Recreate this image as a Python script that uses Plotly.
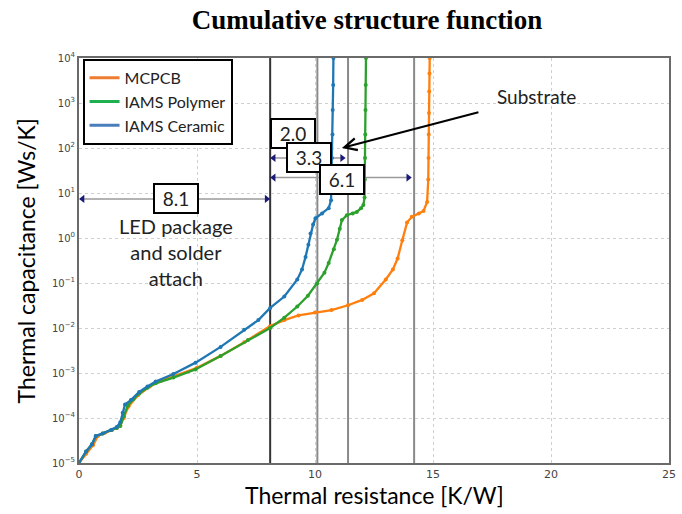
import numpy as np
import plotly.graph_objects as go

# Cumulative structure functions: thermal resistance [K/W] vs thermal capacitance [Ws/K]
mcpcb_r = [0, 0.3, 0.6, 0.8, 1.1, 1.4, 1.6, 1.75, 1.9, 2.1,
           2.5, 3.0, 3.5, 4.0, 5.0, 6.0, 7.0, 8.1, 8.7, 9.3,
           10.0, 10.7, 11.4, 12.0, 12.5, 13.0, 13.3, 13.5, 13.7, 13.9,
           14.1, 14.4, 14.6, 14.75, 14.8, 14.81, 14.82, 14.83, 14.84, 14.85, 14.86]
mcpcb_c = [1.0e-5, 1.6e-5, 2.5e-5, 4.0e-5, 4.7e-5, 5.4e-5, 6.0e-5, 6.8e-5, 1.0e-4, 1.8e-4,
           3.2e-4, 5.0e-4, 6.8e-4, 8.5e-4, 1.3e-3, 2.4e-3, 4.8e-3, 1.1e-2, 1.5e-2, 1.9e-2,
           2.2e-2, 2.5e-2, 3.2e-2, 4.2e-2, 5.9e-2, 0.12, 0.2, 0.35, 0.89, 2.2,
           2.95, 3.5, 4.0, 6.3, 20, 60, 200, 600, 1800, 4500, 10000]

polymer_r = [0, 0.3, 0.55, 0.71, 1.0, 1.37, 1.6, 1.75, 1.9, 2.07,
             2.3, 2.55, 2.9, 3.25, 4.0, 4.93, 6.0, 7.16, 8.1, 8.7,
             9.25, 9.7, 10.09, 10.4, 10.58, 10.8, 10.93, 11.05, 11.14, 11.35,
             11.6, 11.77, 11.95, 12.05, 12.1, 12.11, 12.12, 12.13, 12.14, 12.15, 12.16]
polymer_c = [1.0e-5, 1.8e-5, 2.6e-5, 4.0e-5, 4.5e-5, 5.4e-5, 6.0e-5, 6.6e-5, 1.1e-4, 1.9e-4,
             2.6e-4, 3.5e-4, 4.7e-4, 5.9e-4, 7.9e-4, 1.2e-3, 2.4e-3, 5.4e-3, 1.0e-2, 1.7e-2,
             3.0e-2, 5.2e-2, 9.8e-2, 0.17, 0.28, 0.56, 0.91, 1.6, 2.5, 3.2,
             3.5, 3.8, 4.6, 5.4, 7.9, 20, 60, 200, 700, 2500, 10000]

ceramic_r = [0, 0.3, 0.55, 0.71, 1.0, 1.37, 1.6, 1.75, 1.85, 1.95,
             2.2, 2.55, 2.9, 3.25, 4.0, 4.94, 6.0, 7.0, 7.6, 8.1,
             8.7, 9.25, 9.45, 9.6, 9.72, 9.81, 9.92, 10.02, 10.3, 10.58,
             10.68, 10.7, 10.72, 10.74, 10.75, 10.77, 10.78]
ceramic_c = [1.0e-5, 1.8e-5, 2.6e-5, 4.0e-5, 4.5e-5, 5.4e-5, 6.3e-5, 8.0e-5, 1.3e-4, 2.0e-4,
             2.5e-4, 3.8e-4, 5.0e-4, 6.5e-4, 9.5e-4, 1.7e-3, 3.8e-3, 9.1e-3, 1.5e-2, 2.8e-2,
             5.0e-2, 0.12, 0.2, 0.38, 0.71, 1.26, 2.0, 2.75, 3.5, 4.6,
             6.9, 20, 60, 200, 700, 2500, 10000]

series_names = ["MCPCB", "IAMS Polymer", "IAMS Ceramic"]
curve_colors = ["#ff7f0e", "#2ca02c", "#1f77b4"]
legend_colors = ["#ed7d31", "#1fb050", "#4a7ebb"]

# Thermal resistance of the LED package + solder, and the substrate increments
package_r = 8.1
substrate_widths = [2.0, 3.3, 6.1]
substrate_labels = ["2.0", "3.3", "6.1"]

x_ticks = [0, 5, 10, 15, 20, 25]
y_exponents = [-5, -4, -3, -2, -1, 0, 1, 2, 3, 4]

fig = go.Figure()

# boundary lines between package and substrate regions
boundaries = [package_r] + [package_r + w for w in substrate_widths]
for i, bx in enumerate(boundaries):
    fig.add_shape(type="line", xref="x", yref="paper", x0=bx, x1=bx, y0=0, y1=1,
                  line=dict(color="#333333" if i == 0 else "#8a8a8a", width=2),
                  layer="below")

# dimension arrows: gray shafts with navy triangular heads
dims = [
    (0.15, package_r - 0.15, 7.4),                                  # 8.1
    (package_r + 0.15, package_r + substrate_widths[1] - 0.25, 60),  # 3.3
    (package_r + 0.15, package_r + substrate_widths[2] - 0.25, 22),  # 6.1
]
for x0, x1, lvl in dims:
    fig.add_trace(go.Scatter(x=[x0, x1], y=[lvl, lvl], mode="lines",
                             line=dict(color="#9a9a9a", width=1.5),
                             hoverinfo="skip", showlegend=False))
    fig.add_trace(go.Scatter(x=[x0, x1], y=[lvl, lvl], mode="markers",
                             marker=dict(symbol=["triangle-left", "triangle-right"],
                                         size=7, color="#1a1a7a"),
                             hoverinfo="skip", showlegend=False))

series = [(mcpcb_r, mcpcb_c), (polymer_r, polymer_c), (ceramic_r, ceramic_c)]
for (r, c), name, col in zip(series, series_names, curve_colors):
    fig.add_trace(go.Scatter(x=r, y=c, mode="lines+markers", name=name,
                             line=dict(color=col, width=2.3),
                             marker=dict(color=col, size=4),
                             showlegend=False))
for name, col in zip(series_names, legend_colors):
    fig.add_trace(go.Scatter(x=[None], y=[None], mode="lines", name=name,
                             line=dict(color=col, width=3)))

annotations = []

box_font = dict(family="Lato, sans-serif", size=19, color="#222222")
boxes = [
    ("8.1", 4.1, 7.6),
    (substrate_labels[0], 9.05, 215),
    (substrate_labels[1], 9.76, 60),
    (substrate_labels[2], 11.14, 20),
]
for txt, bx, lvl in boxes:
    annotations.append(dict(x=bx, y=float(np.log10(lvl)), text=txt, showarrow=False,
                            font=box_font, bgcolor="white", bordercolor="black",
                            borderwidth=2, borderpad=2, width=38))

annotations.append(dict(x=4.1, y=float(np.log10(0.49)), text="LED package<br>and solder<br>attach",
                        showarrow=False, font=dict(family="Lato, sans-serif", size=20, color="#222222")))

# "Substrate" label with its pointer
annotations.append(dict(x=11.14, y=2.0, ax=19.4, ay=float(np.log10(1360)), axref="x", ayref="y",
                        text="Substrate", showarrow=True, arrowhead=5, arrowsize=1.2,
                        arrowwidth=2, arrowcolor="black", standoff=0, startstandoff=18,
                        font=dict(family="Lato, sans-serif", size=19, color="#222222")))

annotations.append(dict(xref="paper", yref="paper", x=0.5, y=-0.079,
                        text="Thermal resistance [K/W]", showarrow=False, yanchor="middle",
                        font=dict(family="Lato, sans-serif", size=23, color="black")))
annotations.append(dict(xref="paper", yref="paper", x=-0.09, y=0.5, textangle=-90,
                        text="Thermal capacitance [Ws/K]", showarrow=False, xanchor="center",
                        font=dict(family="Lato, sans-serif", size=23, color="black")))

fig.update_layout(
    width=682, height=514,
    margin=dict(l=79, r=6, t=58, b=51),
    paper_bgcolor="white", plot_bgcolor="white",
    title=dict(text="<b>Cumulative structure function</b>", x=0.538, xref="container",
               xanchor="center", y=0.962, yref="container", yanchor="middle",
               font=dict(family="Liberation Serif, serif", size=27, color="black")),
    legend=dict(x=0.006, y=0.998, xanchor="left", yanchor="top",
                bgcolor="white", bordercolor="black", borderwidth=2,
                font=dict(family="Lato, sans-serif", size=16, color="#222222"),
                itemwidth=30, tracegroupgap=0),
    annotations=annotations,
)
fig.update_xaxes(range=[0, 25], tickvals=x_ticks, showgrid=True, gridcolor="#cfcfcf",
                 griddash="dot", gridwidth=1, zeroline=False,
                 showline=True, mirror=True, linecolor="#6a6a6a", linewidth=2,
                 tickfont=dict(family="DejaVu Sans, sans-serif", size=11, color="#444444"))
fig.update_yaxes(type="log", range=[-5, 4],
                 tickvals=[10.0 ** e for e in y_exponents],
                 ticktext=[f"10<sup>{str(e).replace('-', '\u2212')}</sup>" for e in y_exponents],
                 showgrid=True, gridcolor="#cfcfcf", griddash="dot", gridwidth=1,
                 zeroline=False, showline=True, mirror=True, linecolor="#6a6a6a", linewidth=2,
                 tickfont=dict(family="DejaVu Sans, sans-serif", size=10, color="#444444"))

fig.write_html("out.html")
